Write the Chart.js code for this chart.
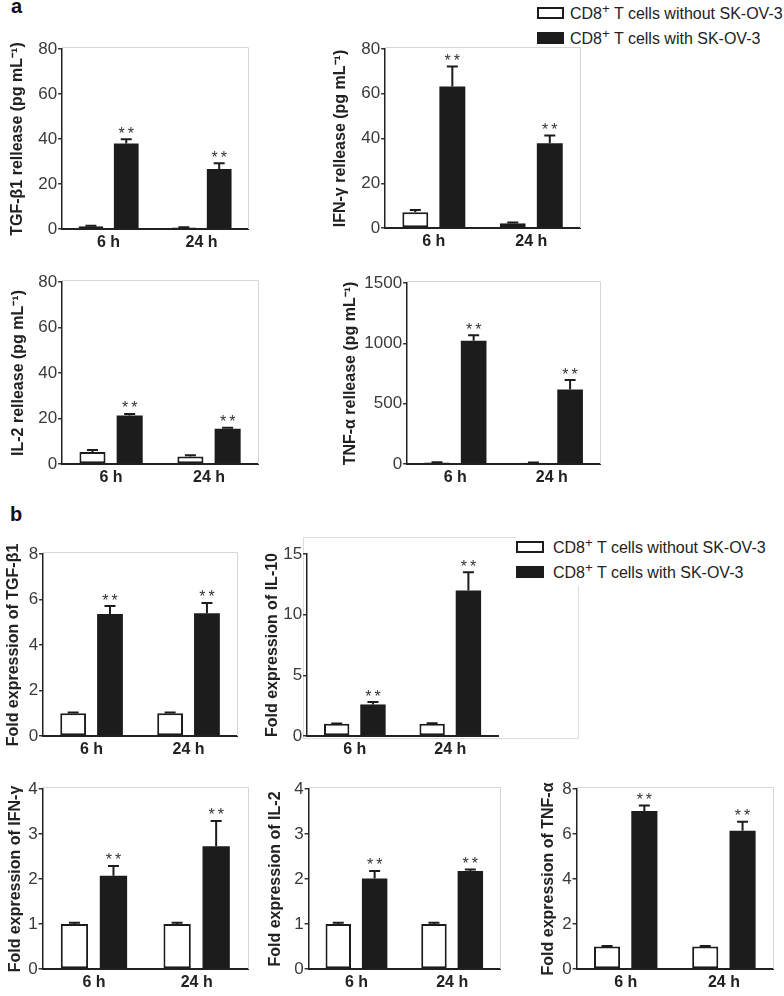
<!DOCTYPE html>
<html>
<head>
<meta charset="utf-8">
<script src="https://cdn.jsdelivr.net/npm/chart.js@4.4.1/dist/chart.umd.min.js"></script>
<style>
  body { margin: 0; background: #fff; width: 784px; height: 996px; position: relative; overflow: hidden;
         font-family: 'Liberation Sans', Arial, sans-serif; }
  .wrap { position: absolute; }
  .letter { position: absolute; font-weight: bold; font-size: 20px; line-height: 20px; color: #111; }
  .legend { position: absolute; background: #fff; font-size: 16px; color: #222; white-space: nowrap; }
  .legend .row { display: flex; align-items: center; height: 25px; }
  .legend .box { box-sizing: border-box; height: 12px; border: 2.5px solid #1c1c1c; }
  .frame { position: absolute; border: 1px solid #ddd; box-sizing: border-box; }
</style>
</head>
<body>
<div class="letter" style="left:11px; top:-4px;">a</div>
<div class="letter" style="left:10px; top:504px;">b</div>

<div class="frame" style="left:303px; top:537px; width:276px; height:202px;"></div>

<div class="legend" id="legendA" style="left:537px; top:0px; width:247px;"></div>
<div class="legend" id="legendB" style="left:516px; top:534px; width:268px; height:52px;"></div>

<script>
const timePoints = ['6 h', '24 h']
const seriesNames = ['CD8<sup>+</sup> T cells without SK-OV-3', 'CD8<sup>+</sup> T cells with SK-OV-3']

// a: release (pg/mL), mean and upper SEM
const tgfRelWithout = [1.2, 0.7]
const tgfRelWithoutErr = [0.2, 0.1]
const tgfRelWith = [38.0, 26.7]
const tgfRelWithErr = [1.9, 2.5]

const ifnRelWithout = [7.0, 2.1]
const ifnRelWithoutErr = [1.0, 0.4]
const ifnRelWith = [63.2, 37.9]
const ifnRelWithErr = [9.0, 3.4]

const il2RelWithout = [5.3, 3.3]
const il2RelWithoutErr = [0.9, 0.6]
const il2RelWith = [21.3, 15.5]
const il2RelWithErr = [0.7, 0.4]

const tnfRelWithout = [12, 10]
const tnfRelWithoutErr = [3, 3]
const tnfRelWith = [1022, 618]
const tnfRelWithErr = [45, 78]

// b: fold expression
const tgfFoldWithout = [1.0, 1.0]
const tgfFoldWithoutErr = [0.03, 0.03]
const tgfFoldWith = [5.36, 5.40]
const tgfFoldWithErr = [0.35, 0.45]

const il10FoldWithout = [1.0, 1.0]
const il10FoldWithoutErr = [0.03, 0.05]
const il10FoldWith = [2.6, 12.0]
const il10FoldWithErr = [0.2, 1.5]

const ifnFoldWithout = [1.0, 1.0]
const ifnFoldWithoutErr = [0.03, 0.03]
const ifnFoldWith = [2.07, 2.73]
const ifnFoldWithErr = [0.22, 0.56]

const il2FoldWithout = [1.0, 1.0]
const il2FoldWithoutErr = [0.03, 0.03]
const il2FoldWith = [2.01, 2.18]
const il2FoldWithErr = [0.17, 0.03]

const tnfFoldWithout = [1.0, 1.0]
const tnfFoldWithoutErr = [0.02, 0.02]
const tnfFoldWith = [7.02, 6.15]
const tnfFoldWithErr = [0.25, 0.40]

// y axis ranges (max, step) per panel
const yMax = { a1: 80, a2: 80, a3: 80, a4: 1500, b1: 8, b2: 15, b3: 4, b4: 4, b5: 8 }
const yStep = { a1: 20, a2: 20, a3: 20, a4: 500, b1: 2, b2: 5, b3: 1, b4: 1, b5: 2 }

const FONT = "'Liberation Sans', Arial, sans-serif"
const INK = '#1c1c1c'

const panels = [
  { id: 'a1', title: 'TGF-\u03B21 rellease (pg mL\u207B\u00B9)', L: 62, T: 49, R: 248, B: 229, tx: 17.5,
    w: tgfRelWithout, we: tgfRelWithoutErr, s: tgfRelWith, se: tgfRelWithErr },
  { id: 'a2', title: 'IFN-\u03B3 rellease (pg mL\u207B\u00B9)', L: 385, T: 49, R: 580, B: 228, tx: 340.5,
    w: ifnRelWithout, we: ifnRelWithoutErr, s: ifnRelWith, se: ifnRelWithErr },
  { id: 'a3', title: 'IL-2 rellease (pg mL\u207B\u00B9)', L: 62, T: 282, R: 258, B: 464, tx: 18.5,
    w: il2RelWithout, we: il2RelWithoutErr, s: il2RelWith, se: il2RelWithErr },
  { id: 'a4', title: 'TNF-\u03B1 rellease (pg mL\u207B\u00B9)', L: 407, T: 283, R: 600, B: 464, tx: 350.5,
    w: tnfRelWithout, we: tnfRelWithoutErr, s: tnfRelWith, se: tnfRelWithErr },
  { id: 'b1', title: 'Fold expression of TGF-\u03B21', L: 43, T: 554, R: 237, B: 736, tx: 13.5,
    w: tgfFoldWithout, we: tgfFoldWithoutErr, s: tgfFoldWith, se: tgfFoldWithErr },
  { id: 'b2', title: 'Fold expression of IL-10', L: 307, T: 554, R: 498, B: 736, tx: 272.5, noFrame: true,
    w: il10FoldWithout, we: il10FoldWithoutErr, s: il10FoldWith, se: il10FoldWithErr },
  { id: 'b3', title: 'Fold expression of IFN-\u03B3', L: 43, T: 789, R: 248, B: 969, tx: 16,
    w: ifnFoldWithout, we: ifnFoldWithoutErr, s: ifnFoldWith, se: ifnFoldWithErr },
  { id: 'b4', title: 'Fold expression of IL-2', L: 309, T: 789, R: 500, B: 969, tx: 276,
    w: il2FoldWithout, we: il2FoldWithoutErr, s: il2FoldWith, se: il2FoldWithErr },
  { id: 'b5', title: 'Fold expression of TNF-\u03B1', L: 577, T: 789, R: 773, B: 969, tx: 549,
    w: tnfFoldWithout, we: tnfFoldWithoutErr, s: tnfFoldWith, se: tnfFoldWithErr },
]

// light grey frame on top and right of the plot area
const framePlugin = {
  id: 'frame',
  beforeDatasetsDraw(chart, args, opts) {
    if (opts.off) return
    const { ctx, chartArea: a } = chart
    ctx.save()
    ctx.strokeStyle = '#d6d6d6'
    ctx.lineWidth = 1
    ctx.beginPath()
    ctx.moveTo(a.left, a.top - 1.5)
    ctx.lineTo(a.right + 0.5, a.top - 1.5)
    ctx.lineTo(a.right + 0.5, a.bottom)
    ctx.stroke()
    ctx.restore()
  },
}

// upper error bars and significance stars
const errorPlugin = {
  id: 'errorBars',
  afterDatasetsDraw(chart) {
    const { ctx } = chart
    const y = chart.scales.y
    chart.data.datasets.forEach((ds, di) => {
      const meta = chart.getDatasetMeta(di)
      meta.data.forEach((bar, i) => {
        const top = y.getPixelForValue(ds.data[i] + ds.errors[i])
        ctx.save()
        ctx.strokeStyle = INK
        ctx.lineWidth = 2
        ctx.beginPath()
        ctx.moveTo(bar.x, bar.y)
        ctx.lineTo(bar.x, top)
        ctx.moveTo(bar.x - 5.5, top)
        ctx.lineTo(bar.x + 5.5, top)
        ctx.stroke()
        if (ds.stars) {
          ctx.fillStyle = '#333'
          ctx.font = '16px ' + FONT
          ctx.letterSpacing = '3px'
          ctx.textAlign = 'center'
          ctx.textBaseline = 'alphabetic'
          ctx.fillText('**', bar.x + 1.5, top - 0.5)
        }
        ctx.restore()
      })
    })
  },
}

function buildLegend(id, boxW, gap) {
  const el = document.getElementById(id)
  seriesNames.forEach((name, i) => {
    const row = document.createElement('div')
    row.className = 'row'
    const box = document.createElement('span')
    box.className = 'box'
    box.style.width = boxW + 'px'
    box.style.marginRight = gap + 'px'
    box.style.background = i === 0 ? '#fff' : INK
    row.appendChild(box)
    const txt = document.createElement('span')
    txt.innerHTML = name
    row.appendChild(txt)
    el.appendChild(row)
  })
}
buildLegend('legendA', 27, 6)
buildLegend('legendB', 28, 9)

const padTop = 14
const padRight = 4
const xH = 30

panels.forEach((p) => {
  const canvasLeft = p.tx - 9.6
  const yW = p.L - canvasLeft
  const width = Math.round(yW + (p.R - p.L) + padRight)
  const height = Math.round(padTop + (p.B - p.T) + xH)

  const wrap = document.createElement('div')
  wrap.className = 'wrap'
  wrap.style.left = canvasLeft + 'px'
  wrap.style.top = (p.T - padTop) + 'px'
  const canvas = document.createElement('canvas')
  canvas.width = width
  canvas.height = height
  canvas.style.width = width + 'px'
  canvas.style.height = height + 'px'
  wrap.appendChild(canvas)
  document.body.appendChild(wrap)

  const chart = new Chart(canvas, {
    type: 'bar',
    data: {
      labels: timePoints,
      datasets: [
        { data: p.w, errors: p.we, backgroundColor: '#fff', borderColor: INK, borderWidth: 2, borderSkipped: false },
        { data: p.s, errors: p.se, stars: true, backgroundColor: INK, borderColor: INK, borderWidth: 0 },
      ],
    },
    options: {
      responsive: false,
      animation: false,
      events: [],
      layout: { padding: { top: padTop, right: padRight, left: 0, bottom: 0 } },
      datasets: { bar: { categoryPercentage: 0.76, barPercentage: 0.7 } },
      scales: {
        x: {
          grid: { display: false, drawTicks: false },
          border: { display: true, color: '#222', width: 2 },
          ticks: { color: '#222', padding: 4, font: { family: FONT, size: 16, weight: 'bold' } },
          afterFit: (s) => { s.height = xH },
        },
        y: {
          min: 0,
          max: yMax[p.id],
          grid: { display: true, drawOnChartArea: false, drawTicks: true, tickLength: 4, color: '#333', lineWidth: 1.5 },
          border: { display: true, color: '#222', width: 1.5 },
          ticks: {
            stepSize: yStep[p.id],
            color: '#3a3a3a',
            padding: 1,
            font: { family: FONT, size: 17 },
            callback: (v) => String(v),
          },
          title: {
            display: true,
            text: p.title,
            color: '#222',
            padding: { top: 0, bottom: 0 },
            font: { family: FONT, size: 16, weight: 'bold' },
          },
          afterFit: (s) => { s.width = yW },
        },
      },
      plugins: {
        legend: { display: false },
        tooltip: { enabled: false },
        frame: { off: !!p.noFrame },
      },
    },
    plugins: [framePlugin, errorPlugin],
  })

  // snap plot area onto the reference position
  const ca = chart.chartArea
  wrap.style.left = (p.L - ca.left) + 'px'
  wrap.style.top = (p.T - ca.top) + 'px'
})
</script>
</body>
</html>
